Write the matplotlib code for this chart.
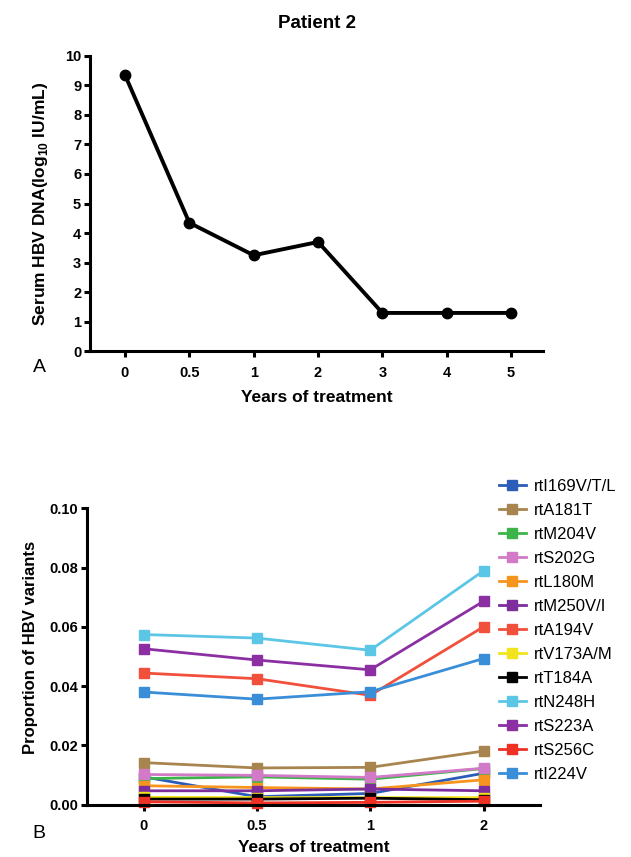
import numpy as np
import matplotlib
matplotlib.use("Agg")
import matplotlib.pyplot as plt

plt.rcParams['font.family'] = ['Liberation Sans', 'DejaVu Sans']
plt.rcParams['mathtext.fontset'] = 'custom'
plt.rcParams['mathtext.rm'] = 'Liberation Sans:bold'
plt.rcParams['mathtext.bf'] = 'Liberation Sans:bold'

# panel A: viral load
years_a = ['0', '0.5', '1', '2', '3', '4', '5']
hbv_dna = [9.35, 4.35, 3.25, 3.7, 1.3, 1.3, 1.3]

# panel B: variant proportions
years_b = ['0', '0.5', '1', '2']
variants = ['rtI169V/T/L', 'rtA181T', 'rtM204V', 'rtS202G', 'rtL180M', 'rtM250V/I',
            'rtA194V', 'rtV173A/M', 'rtT184A', 'rtN248H', 'rtS223A', 'rtS256C', 'rtI224V']
proportions = [
    [0.0094, 0.0027, 0.0038, 0.0106],
    [0.0142, 0.0124, 0.0126, 0.0181],
    [0.0088, 0.0094, 0.0086, 0.0122],
    [0.0102, 0.0099, 0.0092, 0.0123],
    [0.0064, 0.0058, 0.0053, 0.0084],
    [0.0047, 0.0047, 0.0053, 0.0047],
    [0.0444, 0.0425, 0.0369, 0.0600],
    [0.0025, 0.0024, 0.0024, 0.0024],
    [0.0019, 0.0019, 0.0022, 0.0017],
    [0.0574, 0.0562, 0.0521, 0.0789],
    [0.0526, 0.0488, 0.0455, 0.0686],
    [0.0010, 0.0006, 0.0008, 0.0012],
    [0.0380, 0.0356, 0.0381, 0.0493],
]
colors = ['#2b5cb8', '#a8844f', '#3cb44a', '#d27ac8', '#f7941d', '#7d2e9c',
          '#f0503c', '#f2e41c', '#000000', '#5cc6e6', '#8b2fa2', '#ee3124', '#3a8ed8']

fig = plt.figure(figsize=(6.31, 8.57), dpi=100)

def style_axes(ax):
    for s in ['top', 'right']:
        ax.spines[s].set_visible(False)
    for s in ['left', 'bottom']:
        ax.spines[s].set_linewidth(2.2)
    ax.tick_params(width=2.2, length=4.5, direction='out', labelsize=10.5, pad=2)
    ax.tick_params(axis='x', pad=6)
    for lab in ax.get_xticklabels() + ax.get_yticklabels():
        lab.set_fontweight('bold')

# ---- panel A
ax1 = fig.add_axes([0.143, 0.590, 0.718, 0.345])
xa = np.arange(len(years_a))
ax1.plot(xa, hbv_dna, color='black', lw=2.8, marker='o', ms=7.5, clip_on=False)
ax1.set_xlim(-0.54, 6.5)
ax1.set_ylim(0, 10)
ax1.set_yticks(range(0, 11))
ax1.set_xticks(xa)
ax1.set_xticklabels(years_a)
style_axes(ax1)
ax1.set_xlabel('Years of treatment', fontsize=12.5, fontweight='bold', labelpad=7)
ax1.set_ylabel(r'Serum HBV DNA(log$_{10}$ IU/mL)', fontsize=12.5, fontweight='bold', labelpad=11)
ax1.set_title('Patient 2', fontsize=13.5, fontweight='bold', pad=20)
fig.text(0.052, 0.571, 'A', fontsize=14, ha='left', va='center')

# ---- panel B
ax2 = fig.add_axes([0.138, 0.061, 0.718, 0.346])
xb = np.arange(len(years_b))
for name, vals, c in zip(variants, proportions, colors):
    ax2.plot(xb, vals, color=c, lw=2, marker='s', ms=6.5, label=name, clip_on=False)
ax2.set_xlim(-0.5, 3.5)
ax2.set_ylim(0, 0.10)
ax2.set_yticks(np.arange(0, 0.101, 0.02))
ax2.set_yticklabels(['%.2f' % v for v in np.arange(0, 0.101, 0.02)])
ax2.set_xticks(xb)
ax2.set_xticklabels(years_b)
style_axes(ax2)
ax2.set_xlabel('Years of treatment', fontsize=12.5, fontweight='bold', labelpad=5)
ax2.set_ylabel('Proportion of HBV variants', fontsize=12, fontweight='bold', labelpad=14)
ax2.yaxis.set_label_coords(-0.108, 0.53)
fig.text(0.052, 0.028, 'B', fontsize=14, ha='left', va='center')

fig.legend(loc='upper left', bbox_to_anchor=(0.791, 0.441), frameon=False,
           fontsize=12, handlelength=1.6, labelspacing=0.54, handletextpad=0.5,
           borderaxespad=0, borderpad=0)

fig.savefig('out.png', dpi=100)
